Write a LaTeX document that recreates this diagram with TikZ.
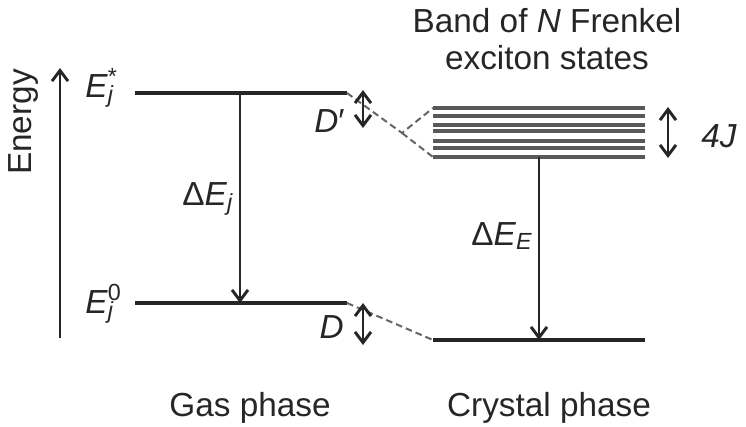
\documentclass[tikz,border=0pt]{standalone}
\usepackage{fontspec}
\setmainfont{Liberation Sans}
\usetikzlibrary{arrows.meta, positioning}

\begin{document}
\begin{tikzpicture}[
        x=0.75pt, y=-0.75pt,
        >={Straight Barb[length=8pt,width=12pt]},
        level/.style={line width=3pt, draw=black!85},
        band/.style={line width=2.5pt, draw=black!65},
        arr/.style={->, line width=2.2pt, draw=black!85},
        dbl/.style={<->, line width=2.2pt, draw=black!85},
        link/.style={dash pattern=on 5pt off 3pt, line width=1.5pt, draw=black!60},
        every node/.style={font=\fontsize{25}{28}\selectfont, text=black!85, inner sep=0pt}
    ]
    \useasboundingbox (0,0) rectangle (746,426);

    % gas phase levels
    \coordinate (gasup-l) at (135,93);
    \coordinate (gasup-r) at (347,93);
    \coordinate (gaslo-l) at (135,303);
    \coordinate (gaslo-r) at (347,303);
    \draw[level] (gasup-l) -- (gasup-r);
    \draw[level] (gaslo-l) -- (gaslo-r);

    % crystal phase: exciton band and ground level
    \foreach \y in {108,116,125,131,141,148,157}
        \draw[band] (433,\y) -- (645,\y);
    \coordinate (band-tl) at (433,108);
    \coordinate (band-bl) at (433,157);
    \coordinate (cryst-l) at (433,340);
    \coordinate (cryst-r) at (645,340);
    \draw[level] (cryst-l) -- (cryst-r);

    % dashed correlation lines
    \coordinate (split) at (402,133);
    \draw[link] (gasup-r) -- (split) -- (band-tl);
    \draw[link] (split) -- (band-bl);
    \draw[link] (gaslo-r) -- (cryst-l);

    % energy axis
    \coordinate (axis-bot) at (60,338);
    \coordinate (axis-top) at (60,68);
    \draw[arr] (axis-bot) -- (axis-top);
    \node[rotate=90] (energy) at (23,122) {Energy};

    % transitions
    \coordinate (gastr-top) at (240,93);
    \coordinate (gastr-bot) at (240,303);
    \draw[arr] (gastr-top) -- (gastr-bot);
    \coordinate (crtr-top) at (539,157);
    \coordinate (crtr-bot) at (539,340);
    \draw[arr] (crtr-top) -- (crtr-bot);

    % shifts and band width
    \coordinate (dp-top) at (363,90);
    \coordinate (dp-bot) at (363,128);
    \draw[dbl] (dp-top) -- (dp-bot);
    \coordinate (d-top) at (363,303);
    \coordinate (d-bot) at (363,345);
    \draw[dbl] (d-top) -- (d-bot);
    \coordinate (bw-top) at (668,107);
    \coordinate (bw-bot) at (668,158);
    \draw[dbl] (bw-top) -- (bw-bot);

    % labels
    \node[anchor=base west] (estar) at (85,97) {\textit{E}\rlap{\textsuperscript{*}}\textsubscript{\textit{j}}};
    \node[anchor=base west] (ezero) at (85,313) {\textit{E}\rlap{\textsuperscript{0}}\textsubscript{\textit{j}}};
    \node[anchor=base west] (dej) at (182,205) {Δ\textit{E}\textsubscript{\textit{j}}};
    \node[anchor=base west] (dee) at (471,245) {Δ\textit{E}\textsubscript{\textit{E}}};
    \node[anchor=base west] (dprime) at (314,132) {\textit{D}′};
    \node[anchor=base east] (dshift) at (344,338) {\textit{D}};
    \node[anchor=base west] (fourj) at (701,147) {\textit{4J}};
    \node[align=center] (bandlbl) at (547,39) {Band of \textit{N} Frenkel\\exciton states};
    \node[anchor=base] (gas) at (250,416) {Gas phase};
    \node[anchor=base] (crystal) at (549,416) {Crystal phase};

\end{tikzpicture}
\end{document}
